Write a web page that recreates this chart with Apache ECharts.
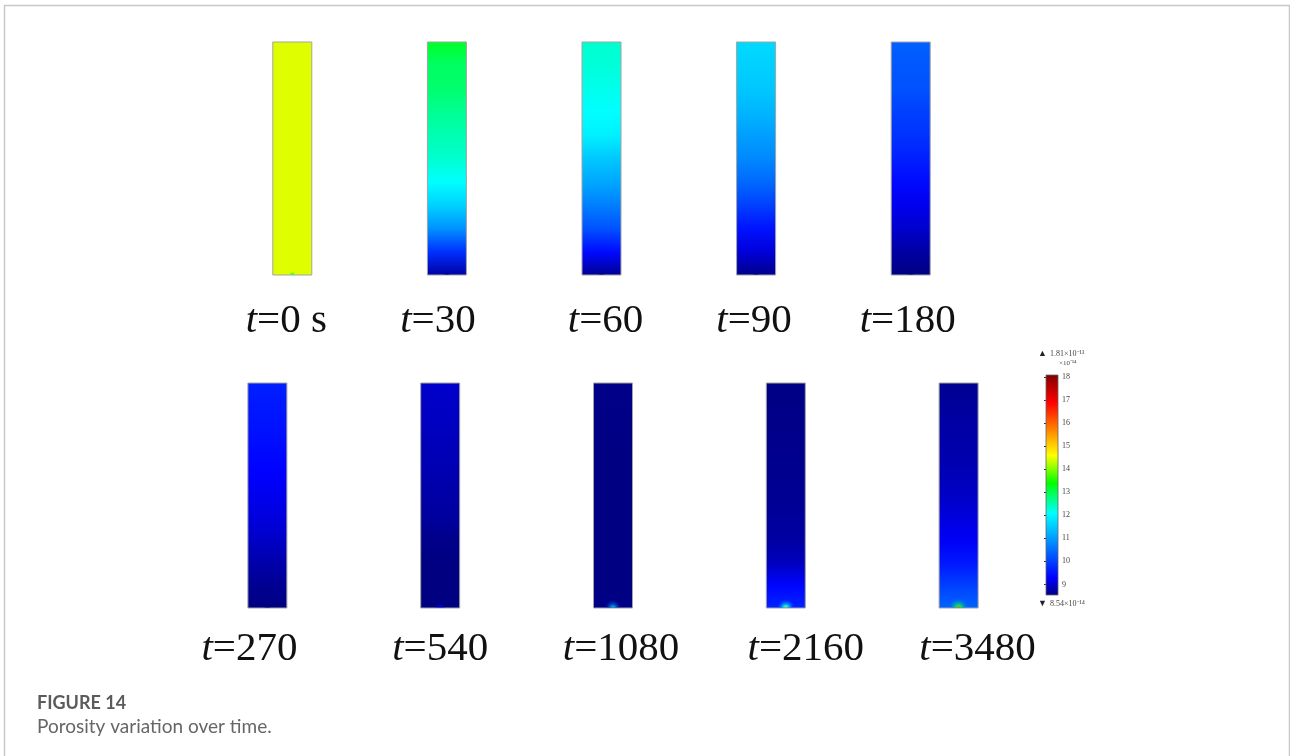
<!DOCTYPE html>
<html>
<head>
<meta charset="utf-8">
<script src="https://cdn.jsdelivr.net/npm/echarts@6/dist/echarts.min.js"></script>
<style>
  html, body { margin: 0; padding: 0; background: #fff; }
  #chart { width: 1290px; height: 756px; }
</style>
</head>
<body>
<div id="chart"></div>
<script>
// Time stamps of the ten snapshots (seconds)
const TIMES = ['0 s', '30', '60', '90', '180', '270', '540', '1080', '2160', '3480'];

// Porosity (×10⁻¹⁴) along each column, sampled top → bottom at 11 equal heights
const P_0    = [14.45, 14.45, 14.45, 14.45, 14.45, 14.45, 14.45, 14.45, 14.45, 14.45, 14.45];
const P_30   = [13.2, 12.9, 12.85, 12.65, 12.5, 12.35, 12.1, 11.6, 10.9, 9.8, 8.74];
const P_60   = [12.35, 12.3, 12.2, 12.1, 11.95, 11.5, 11.15, 10.7, 10.2, 9.4, 8.65];
const P_90   = [11.7, 11.6, 11.5, 11.3, 11.05, 10.8, 10.45, 10.0, 9.5, 9.07, 8.6];
const P_180  = [10.35, 10.25, 10.2, 10.0, 9.85, 9.65, 9.4, 9.2, 9.0, 8.75, 8.54];
const P_270  = [9.65, 9.55, 9.5, 9.4, 9.3, 9.2, 9.1, 8.96, 8.8, 8.65, 8.54];
const P_540  = [9.0, 8.96, 8.92, 8.87, 8.84, 8.77, 8.72, 8.6, 8.55, 8.54, 8.54];
const P_1080 = [8.6, 8.58, 8.57, 8.56, 8.56, 8.56, 8.56, 8.56, 8.56, 8.56, 8.58];
const P_2160 = [8.58, 8.58, 8.6, 8.62, 8.63, 8.65, 8.7, 8.75, 8.92, 9.35, 9.7];
const P_3480 = [8.65, 8.7, 8.77, 8.8, 8.87, 8.96, 9.1, 9.25, 9.55, 10.0, 10.4];

// Peak porosity at the outlet (bottom centre) of each column
const OUTLET_PEAK = [12.0, 8.54, 8.54, 8.6, 8.54, 8.6, 9.9, 13.0, 14.6, 15.8];

// Colour scale range and tick labels
const SCALE_MIN = 8.54;
const SCALE_MAX = 18.1;
const SCALE_TICKS = [9, 10, 11, 12, 13, 14, 15, 16, 17, 18];

const PROFILES = [P_0, P_30, P_60, P_90, P_180, P_270, P_540, P_1080, P_2160, P_3480];

// Rainbow colour table: value → rgb
const CMAP = [
  [8.54, [0, 0, 128]],
  [9.3,  [0, 0, 255]],
  [12.1, [0, 255, 255]],
  [13.4, [0, 255, 0]],
  [14.6, [255, 255, 0]],
  [16.9, [255, 0, 0]],
  [18.1, [128, 0, 0]]
];
function rgbAt(v) {
  if (v <= CMAP[0][0]) return CMAP[0][1];
  for (let i = 1; i < CMAP.length; i++) {
    if (v <= CMAP[i][0]) {
      const [v0, c0] = CMAP[i - 1], [v1, c1] = CMAP[i];
      const f = (v - v0) / (v1 - v0);
      return c0.map((c, k) => Math.round(c + (c1[k] - c) * f));
    }
  }
  return CMAP[CMAP.length - 1][1];
}
function colorAt(v, a) {
  const c = rgbAt(v);
  return a === undefined ? `rgb(${c[0]},${c[1]},${c[2]})` : `rgba(${c[0]},${c[1]},${c[2]},${a})`;
}

// Layout
const COL_W = 39;
const LABEL_DX = [-6, -9, 4, -2, -3, -18, 0, 8, 20, 19];
const SERIF = '"Liberation Serif", "Times New Roman", serif';

function columnRenderer(offset, labelY) {
  return function (params, api) {
    const k = offset + params.dataIndex;
    const prof = PROFILES[k];
    const top = api.coord([api.value(0), 1]);
    const bot = api.coord([api.value(0), 0]);
    const x0 = top[0] - COL_W / 2;
    const h = bot[1] - top[1];
    const stops = prof.map((v, i) => ({ offset: i / (prof.length - 1), color: colorAt(v) }));
    const peak = OUTLET_PEAK[k];
    const base = prof[prof.length - 1];
    // the outlet spot grows with its contrast to the surrounding porosity
    const spotR = 4 + Math.max(0, peak - base) * 1.1;
    return {
      type: 'group',
      children: [
        {
          type: 'rect',
          shape: { x: x0, y: top[1], width: COL_W, height: h },
          style: {
            fill: new echarts.graphic.LinearGradient(0, 0, 0, 1, stops),
            stroke: '#a3a3a3', lineWidth: 1
          }
        },
        {
          type: 'sector',
          shape: { cx: bot[0], cy: bot[1] - 0.5, r0: 0, r: spotR, startAngle: Math.PI, endAngle: Math.PI * 2 },
          style: {
            fill: new echarts.graphic.RadialGradient(bot[0], bot[1], spotR, [
              { offset: 0, color: colorAt(peak, 1) },
              { offset: 0.3, color: colorAt((peak + base) / 2, 0.8) },
              { offset: 1, color: colorAt(base, 0) }
            ], true)
          }
        },
        {
          type: 'text',
          x: top[0] + LABEL_DX[k],
          y: labelY,
          style: {
            text: '{i|t}{n|=' + TIMES[k] + '}',
            align: 'center',
            verticalAlign: 'middle',
            fill: '#111',
            rich: {
              i: { fontFamily: SERIF, fontStyle: 'italic', fontSize: 41, fill: '#111' },
              n: { fontFamily: SERIF, fontSize: 41, fill: '#111' }
            }
          }
        }
      ]
    };
  };
}

const chart = echarts.init(document.getElementById('chart'), null, { renderer: 'canvas' });

const hiddenCat = (data, gi) => ({
  type: 'category', gridIndex: gi, data, show: false, boundaryGap: true
});
const hiddenVal = (gi, min, max) => ({
  type: 'value', gridIndex: gi, min, max, show: false
});

chart.setOption({
  animation: false,
  backgroundColor: '#fff',
  grid: [
    { left: 215, width: 773, top: 42, height: 233 },
    { left: 181, width: 864, top: 383, height: 225 },
    { left: 1046, width: 12, top: 375, height: 220 }
  ],
  xAxis: [
    hiddenCat(TIMES.slice(0, 5), 0),
    hiddenCat(TIMES.slice(5), 1),
    { type: 'value', gridIndex: 2, min: 0, max: 1, show: false }
  ],
  yAxis: [
    hiddenVal(0, 0, 1),
    hiddenVal(1, 0, 1),
    {
      type: 'value', gridIndex: 2, position: 'right', min: SCALE_MIN, max: SCALE_MAX,
      splitLine: { show: false },
      axisLine: { show: false },
      axisTick: { show: true, inside: true, length: 2, customValues: SCALE_TICKS, lineStyle: { color: '#333', width: 1 } },
      axisLabel: {
        show: true, customValues: SCALE_TICKS, margin: 4,
        fontFamily: SERIF, fontSize: 8, color: '#444'
      }
    },
    {
      type: 'value', gridIndex: 2, position: 'left', min: SCALE_MIN, max: SCALE_MAX,
      splitLine: { show: false },
      axisLine: { show: false },
      axisLabel: { show: false },
      axisTick: { show: true, inside: true, length: 2, customValues: SCALE_TICKS, lineStyle: { color: '#333', width: 1 } }
    }
  ],
  series: [
    {
      type: 'custom', xAxisIndex: 0, yAxisIndex: 0,
      data: TIMES.slice(0, 5).map((t, i) => [i, 1]),
      renderItem: columnRenderer(0, 321)
    },
    {
      type: 'custom', xAxisIndex: 1, yAxisIndex: 1,
      data: TIMES.slice(5).map((t, i) => [i, 1]),
      renderItem: columnRenderer(5, 649)
    },
    {
      // colour bar
      type: 'custom', xAxisIndex: 2, yAxisIndex: 2,
      data: [[0, SCALE_MAX]],
      renderItem: function (params, api) {
        const a = api.coord([0, SCALE_MAX]);
        const b = api.coord([1, SCALE_MIN]);
        const span = SCALE_MAX - SCALE_MIN;
        const stops = CMAP.map(([v]) => ({ offset: (SCALE_MAX - v) / span, color: colorAt(v) }))
          .sort((p, q) => p.offset - q.offset);
        return {
          type: 'rect',
          shape: { x: a[0], y: a[1], width: b[0] - a[0], height: b[1] - a[1] },
          style: {
            fill: new echarts.graphic.LinearGradient(0, 0, 0, 1, stops),
            stroke: '#666', lineWidth: 0.8
          }
        };
      },
      z: 1
    }
  ],
  graphic: [
    // figure frame
    {
      type: 'polyline',
      shape: { points: [[4.5, 756], [4.5, 5.5], [1289.5, 5.5], [1289.5, 756]] },
      style: { stroke: '#c8c8c8', lineWidth: 1.5, fill: null }
    },
    // colour bar end annotations
    {
      type: 'text', x: 1038, y: 354,
      style: { text: '▲', fontSize: 9, fill: '#222', verticalAlign: 'middle' }
    },
    {
      type: 'text', x: 1050, y: 354,
      style: { text: (SCALE_MAX / 10).toFixed(2) + '×10⁻¹³', font: '8px ' + SERIF, fill: '#444', verticalAlign: 'middle' }
    },
    {
      type: 'text', x: 1059, y: 363,
      style: { text: '×10⁻¹⁴', font: '7px ' + SERIF, fill: '#444', verticalAlign: 'middle' }
    },
    {
      type: 'text', x: 1038, y: 604,
      style: { text: '▼', fontSize: 9, fill: '#222', verticalAlign: 'middle' }
    },
    {
      type: 'text', x: 1050, y: 604,
      style: { text: SCALE_MIN.toFixed(2) + '×10⁻¹⁴', font: '8px ' + SERIF, fill: '#444', verticalAlign: 'middle' }
    },
    // caption
    {
      type: 'text', x: 37, y: 703,
      style: { text: 'FIGURE 14', font: 'bold 18px Lato, "Open Sans", sans-serif', fill: '#5b5b5b', verticalAlign: 'middle' }
    },
    {
      type: 'text', x: 37, y: 727,
      style: { text: 'Porosity variation over time.', font: '19px Lato, "Open Sans", sans-serif', fill: '#666', verticalAlign: 'middle' }
    }
  ]
});
</script>
</body>
</html>
